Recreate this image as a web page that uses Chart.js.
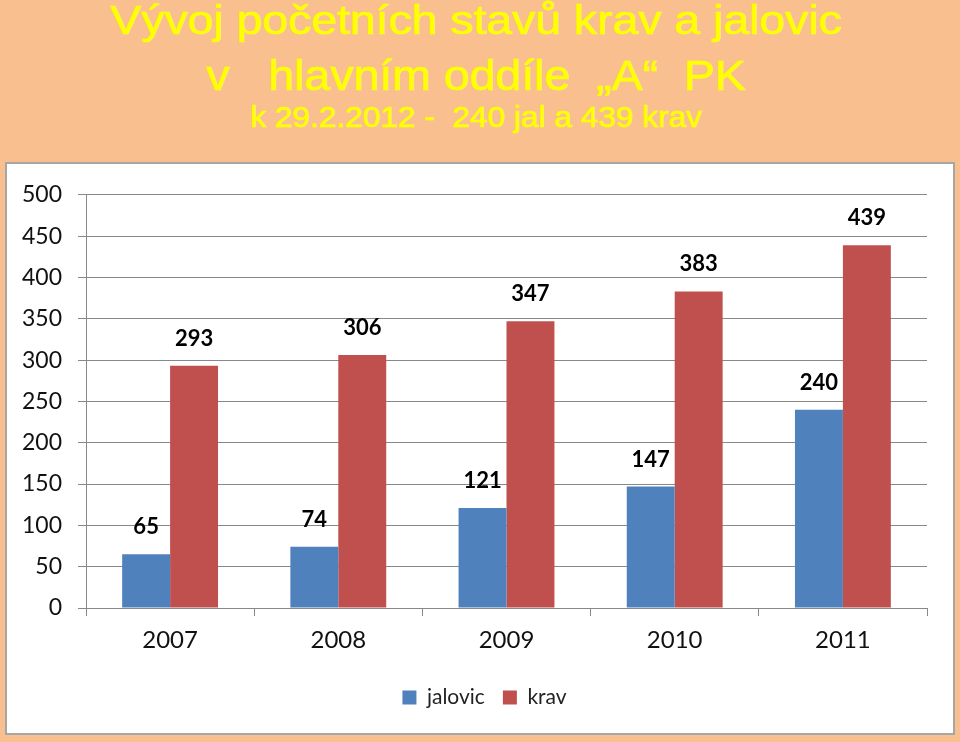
<!DOCTYPE html>
<html>
<head>
<meta charset="utf-8">
<script src="https://cdn.jsdelivr.net/npm/chart.js@4/dist/chart.umd.min.js"></script>
<style>
  body { margin: 0; width: 960px; height: 742px; background: #f9bf8f; position: relative; overflow: hidden; }
  .titulek { position: absolute; left: 0; width: 952px; text-align: center; white-space: pre;
    font-family: "Liberation Sans", Arial, sans-serif; font-weight: normal; color: #ffff00;
    -webkit-text-stroke: 0.6px #ffff00; transform-origin: 476px 0; }
  #panel { position: absolute; left: 5px; top: 162px; width: 946px; height: 569px; background: #fff; border: 2px solid #a6a6a6; }
  #graf { position: absolute; left: 8px; top: 165px; }
</style>
</head>
<body>
<div class="titulek" style="top:0px;font-size:41px;line-height:41px;transform:scaleX(1.13)">Vývoj početních stavů krav a jalovic</div>
<div class="titulek" style="top:54px;font-size:43px;line-height:43px;transform:scaleX(1.08)">v   hlavním oddíle  „A“  PK</div>
<div class="titulek" style="top:103px;font-size:29px;line-height:29px;transform:scaleX(1.09)">k 29.2.2012 -  240 jal a 439 krav</div>
<div id="panel"></div>
<canvas id="graf" width="945" height="568"></canvas>
<script>
const roky = ['2007', '2008', '2009', '2010', '2011'];
const jalovic = [65, 74, 121, 147, 240];
const krav = [293, 306, 347, 383, 439];
const yMax = 500;
const yKrok = 50;

const ctx = document.getElementById('graf').getContext('2d');

// popisky hodnot nad sloupci
const hodnotyPlugin = {
  id: 'hodnoty',
  afterDatasetsDraw(chart) {
    const c = chart.ctx;
    c.save();
    c.font = 'bold 22px Lato';
    c.fillStyle = '#000';
    c.textAlign = 'center';
    c.textBaseline = 'alphabetic';
    chart.data.datasets.forEach((ds, i) => {
      chart.getDatasetMeta(i).data.forEach((bar, j) => {
        c.fillText(ds.data[j], bar.x, bar.y - 20);
      });
    });
    c.restore();
  }
};

// legenda je v originale trochu vic vpravo
const posunLegendy = {
  id: 'posunLegendy',
  afterLayout(chart) {
    chart.legend.left += 17;
    chart.legend.right += 17;
  }
};

const graf = new Chart(ctx, {
  type: 'bar',
  data: {
    labels: roky,
    datasets: [
      { label: 'jalovic', data: jalovic, backgroundColor: '#4f81bd' },
      { label: 'krav', data: krav, backgroundColor: '#c0504d' }
    ]
  },
  options: {
    responsive: false,
    devicePixelRatio: 1,
    animation: false,
    layout: { padding: { top: 25, right: 26, bottom: 15, left: 0 } },
    datasets: { bar: { barPercentage: 1, categoryPercentage: 0.57 } },
    scales: {
      x: {
        grid: { drawOnChartArea: false, tickLength: 8, color: '#888' },
        border: { color: '#888' },
        ticks: { color: '#111', font: { family: 'Lato', size: 24 }, padding: 10 },
        afterFit: (s) => { s.height = 61; }
      },
      y: {
        min: 0,
        max: yMax,
        ticks: { stepSize: yKrok, color: '#111', font: { family: 'Lato', size: 23 }, padding: 16 },
        grid: { color: '#888', tickLength: 8 },
        border: { color: '#888' },
        afterFit: (s) => { s.width = 78; }
      }
    },
    plugins: {
      legend: {
        position: 'bottom',
        labels: { boxWidth: 14, boxHeight: 14, padding: 18, color: '#222', font: { family: 'Lato', size: 21 } }
      },
      tooltip: { enabled: false }
    }
  },
  plugins: [hodnotyPlugin, posunLegendy]
});
</script>
</body>
</html>
